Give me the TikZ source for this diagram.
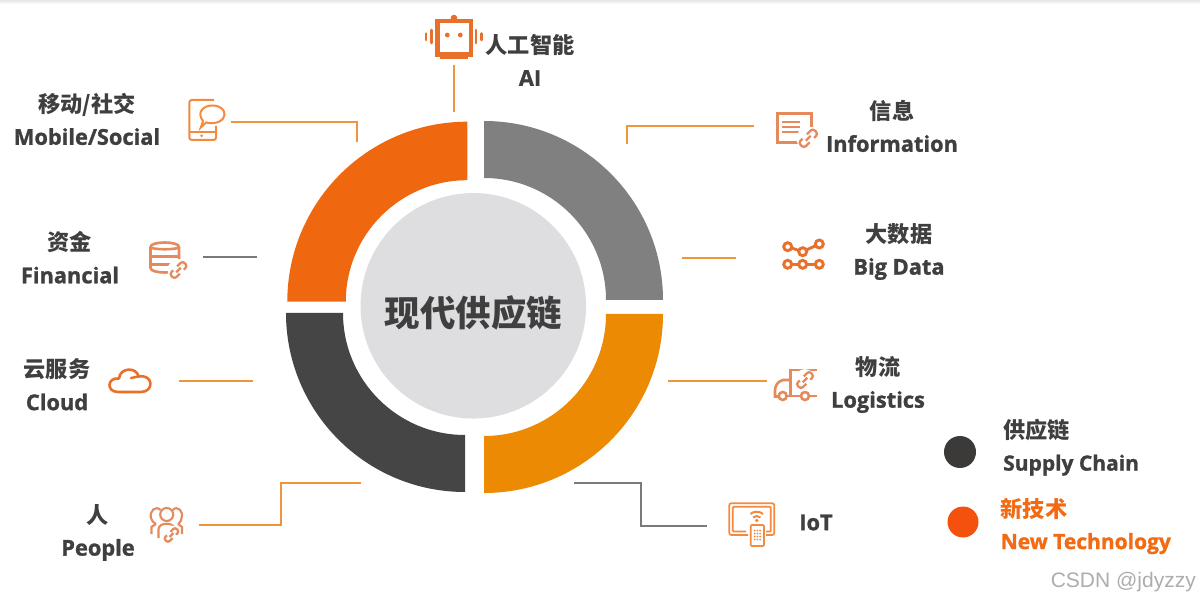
\documentclass[tikz,border=0pt]{standalone}
\usepackage{fontspec}
\setmainfont{Open Sans}[BoldFeatures={FakeBold=1.2}]
\newfontfamily\cn{Noto Sans CJK SC}
\newfontfamily\wm{Liberation Sans}
\definecolor{txt}{HTML}{3F3F3F}
\definecolor{lineor}{HTML}{F0953E}
\definecolor{linegr}{HTML}{7A7A7A}
\definecolor{sorange}{HTML}{EF670E}
\definecolor{sgrey}{HTML}{808080}
\definecolor{sdark}{HTML}{454545}
\definecolor{samber}{HTML}{EC8B03}
\definecolor{hub}{HTML}{DEDEE0}
\definecolor{legdark}{HTML}{3B3A39}
\definecolor{legor}{HTML}{F4510F}
\definecolor{legtxt}{HTML}{F26A12}
\definecolor{ico}{HTML}{E8702A}
\definecolor{icolight}{HTML}{E58A5C}
\definecolor{icobright}{HTML}{F58A3F}
\tikzset{
  lab/.style={text=txt,align=center,inner sep=0pt,font=\fontsize{21.8}{32.5}\selectfont\bfseries},
  orline/.style={draw=lineor,line width=1.6pt},
  grline/.style={draw=linegr,line width=1.6pt},
}
\newcommand{\twolab}[2]{{\cn\fontsize{22.2}{32.5}\selectfont #1}\\#2}
\newcommand{\lnk}[4][1]{\begin{scope}[shift={(#2,#3)},rotate=45,scale=#1,line width=2.3pt,draw=#4]
  \fill[white] (0,0) circle[radius=9.5pt];
  \draw[rounded corners=2.6pt] (-1.5,-3) -- (-8,-3) -- (-8,3) -- (-3.5,3);
  \draw[rounded corners=2.6pt] (1.5,3) -- (8,3) -- (8,-3) -- (3.5,-3);
  \draw (-2.8,0) -- (2.8,0);
\end{scope}}
\begin{document}
\begin{tikzpicture}[x=1pt,y=1pt]
\useasboundingbox (0,0) rectangle (1200,-601);
\fill[white] (0,0) rectangle (1200,-601);
\shade[top color=black!10,bottom color=white] (0,0) rectangle (1200,-4);
% ring
\fill[sgrey] (484,-121) arc[start angle=90,end angle=0,radius=179pt] -- (606,-300) arc[start angle=0,end angle=90,radius=122pt] -- cycle;
\fill[sorange] (467.3,-121.7) arc[start angle=90,end angle=180,radius=180pt] -- (345.8,-301.7) arc[start angle=180,end angle=90,radius=121.5pt] -- cycle;
\fill[sdark] (286,-313) arc[start angle=180,end angle=270,radius=179pt] -- (465,-435) arc[start angle=270,end angle=180,radius=122pt] -- cycle;
\fill[samber] (663,-314) arc[start angle=0,end angle=-90,radius=179pt] -- (484,-436) arc[start angle=-90,end angle=0,radius=122pt] -- cycle;
\node[circle,fill=hub,minimum size=225.5pt,inner sep=0pt] (hubc) at (473.3,-305.8) {};
\node[text=txt,inner sep=0pt,font=\fontsize{35.5}{40}\selectfont\cn\bfseries] (hubt) at (473.5,-312.5) {现代供应链};
% labels
\node[lab] (ai) at (530,-60) {\twolab{人工智能}{AI}};
\node[lab] (mobile) at (87,-119) {\twolab{移动/社交}{Mobile/Social}};
\node[lab] (info) at (892,-126) {\twolab{信息}{Information}};
\node[lab] (fin) at (70,-257.5) {\twolab{资金}{Financial}};
\node[lab] (big) at (899,-251.5) {\twolab{大数据}{Big Data}};
\node[lab] (cloud) at (57,-384.5) {\twolab{云服务}{Cloud}};
\node[lab] (log) at (878,-384.5) {\twolab{物流}{Logistics}};
\node[lab] (people) at (98,-532.5) {\twolab{人}{People}};
\node[lab] (iot) at (816,-522.5) {IoT};
% connectors
\coordinate (a1) at (454,-65); \coordinate (a2) at (454,-112);
\draw[orline] (a1) -- (a2);
\coordinate (m1) at (231,-122); \coordinate (m2) at (357,-142);
\draw[orline] (m1) -| (m2);
\coordinate (f1) at (203,-257); \coordinate (f2) at (257,-257);
\draw[grline] (f1) -- (f2);
\coordinate (c1) at (179,-381); \coordinate (c2) at (253,-381);
\draw[orline] (c1) -- (c2);
\coordinate (p1) at (199,-525); \coordinate (p2) at (281,-483); \coordinate (p3) at (361,-483);
\draw[orline] (p1) -| (p2) -- (p3);
\coordinate (i1) at (754,-126); \coordinate (i2) at (627,-144);
\draw[orline] (i1) -| (i2);
\coordinate (b1) at (682,-258); \coordinate (b2) at (736,-258);
\draw[orline] (b1) -- (b2);
\coordinate (l1) at (668,-381); \coordinate (l2) at (767,-381);
\draw[orline] (l1) -- (l2);
\coordinate (t1) at (574,-483); \coordinate (t2) at (641,-526); \coordinate (t3) at (707,-526);
\draw[grline] (t1) -| (t2) -- (t3);
% robot icon
\begin{scope}[draw=ico,fill=ico]
  \draw[line width=4.2pt] (437.5,-21) rectangle (471,-54.5);
  \fill (454,-18) circle[radius=3.3pt];
  \fill (447.3,-35) circle[radius=2.4pt] (460.3,-35) circle[radius=2.4pt];
  \draw[line width=2.2pt] (440,-57.5) -- (467.7,-57.5);
  \draw[line width=2.6pt,line cap=round] (431.7,-30) -- (431.7,-43) (426,-33.5) -- (426,-40) (476,-30) -- (476,-43) (481.5,-33.5) -- (481.5,-40);
\end{scope}
% phone icon
\begin{scope}[draw=icobright,line width=2pt]
  \draw (214,-100) [rounded corners=2.5pt] -- (189.3,-100) -- (189.3,-140) -- (216,-140) -- (216,-126);
  \draw (189.3,-131.7) -- (216,-131.7);
  \fill[icobright] (201.7,-135.8) circle[radius=1.5pt];
  \draw[fill=white] (203,-121) .. controls (196,-112) and (204,-105.5) .. (212,-105.5) .. controls (221,-105.5) and (224.5,-110) .. (224.5,-114.5) .. controls (224.5,-120) and (217,-125) .. (206,-122.5) -- (200.8,-127.5) -- cycle;
\end{scope}
% database icon
\begin{scope}[draw=icolight,line width=2.6pt,line join=round]
  \draw (150.5,-247) .. controls (150.5,-241) and (179,-241) .. (179,-247) -- (179,-268) .. controls (179,-274) and (150.5,-274) .. (150.5,-268) -- cycle;
  \draw (150.5,-247) .. controls (150.5,-250) and (179,-250) .. (179,-247);
  \draw (150.5,-256.5) -- (179,-256.5) (150.5,-264.5) -- (179,-264.5);
  \lnk[1.15]{178.5}{-270}{icolight}
\end{scope}
% cloud icon
\draw[ico,line width=2.6pt,line join=round] (118,-392) .. controls (106,-392) and (107,-377) .. (119,-378.5) .. controls (120,-367) and (137,-367) .. (138.5,-376.5) .. controls (154,-374) and (154,-392) .. (141,-392) -- cycle;
\draw[ico,line width=2.4pt,line cap=round] (138.5,-376.5) -- (131,-378);
% people icon
\begin{scope}[draw=icolight,line width=2.1pt]
  \draw (166.7,-514.5) circle[radius=6.5pt];
  \draw (160.5,-510) .. controls (156,-505) and (149,-511) .. (151,-518) .. controls (152,-522) and (155,-523) .. (156,-524);
  \draw (172.8,-510) .. controls (177,-505) and (184,-511) .. (181.5,-518) .. controls (181,-522) and (179,-523) .. (178,-524);
  \draw (158.5,-538) -- (158.5,-529) .. controls (159,-522) and (174,-522) .. (175,-529) -- (175,-532);
  \draw (151.5,-534) -- (151.5,-527) -- (156,-524);
  \draw (182,-534) -- (182,-527) -- (178,-524);
  \lnk[1]{171.5}{-535}{icolight}
\end{scope}
% information icon
\begin{scope}[draw=icolight,line width=3pt]
  \draw (777.5,-114) rectangle (811.5,-143);
  \draw[line width=2.2pt] (782,-121.7) -- (800,-121.7) (782,-126.7) -- (800,-126.7) (782,-131.7) -- (800,-131.7);
  \lnk[1.25]{808.3}{-138.3}{icolight}
\end{scope}
% big data icon
\begin{scope}[draw=ico,line width=2.9pt]
  \draw (787.7,-246.7) -- (802.7,-251.7) -- (819.3,-244);
  \draw (787.7,-264.3) -- (819.3,-264.3);
  \foreach \p in {(787.7,-246.7),(802.7,-251.7),(819.3,-244),(787.7,-264.3),(802.7,-264.3),(819.3,-264.3)}
    \draw[fill=white] \p circle[radius=4pt];
\end{scope}
% truck icon
\begin{scope}[draw=icolight,line width=2.6pt]
  \draw (816.7,-370) -- (790.7,-370) -- (790.7,-396);
  \draw (790.7,-380) -- (783,-380) .. controls (778,-381) and (775,-386) .. (775,-390) -- (775,-396.5) -- (778,-396.5);
  \draw (787,-396) -- (800.5,-396) (809.5,-396) -- (816.7,-396);
  \draw (782.7,-396) circle[radius=4pt] (805,-396) circle[radius=4pt];
  \lnk[1.15]{805}{-380}{icolight}
\end{scope}
% IoT icon
\begin{scope}[draw=icobright,line width=1.7pt]
  \draw[rounded corners=2pt] (748,-535) -- (729.3,-535) -- (729.3,-503.3) -- (774.3,-503.3) -- (774.3,-535) -- (766,-535);
  \draw[rounded corners=1pt] (746,-531.5) -- (732.8,-531.5) -- (732.8,-506.8) -- (770.8,-506.8) -- (770.8,-531.5) -- (766,-531.5);
  \draw[rounded corners=1pt] (750.7,-525) rectangle (764,-546);
  \foreach \x in {754.5,757.3,760.1} \foreach \y in {-530.5,-533.5,-536.5,-539.5}
    \fill[icobright] (\x,\y) circle[radius=1pt];
  \draw[line width=2pt] (750.5,-514) .. controls (753,-511) and (760,-511) .. (763,-514);
  \draw[line width=2pt] (753,-517.5) .. controls (755,-515.5) and (758.5,-515.5) .. (760.5,-517.5);
  \fill[icobright] (756.7,-520.5) circle[radius=1.8pt];
\end{scope}
% legend
\node[circle,fill=legdark,minimum size=32pt,inner sep=0pt] (dot1) at (960,-452) {};
\node[circle,fill=legor,minimum size=31pt,inner sep=0pt] (dot2) at (963,-522) {};
\node[lab,align=left,anchor=west,font=\fontsize{21}{32}\selectfont\bfseries] (leg1) at (1003,-447.5) {\twolab{供应链}{Supply Chain}};
\node[lab,align=left,anchor=west,text=legtxt,font=\fontsize{21}{32}\selectfont\bfseries] (leg2) at (1000.5,-526) {\twolab{新技术}{New Technology}};
\node[text=black!32,inner sep=0pt,anchor=east,font=\fontsize{21}{24}\selectfont\wm] (wm) at (1196,-582) {CSDN @jdyzzy};
\end{tikzpicture}
\end{document}
